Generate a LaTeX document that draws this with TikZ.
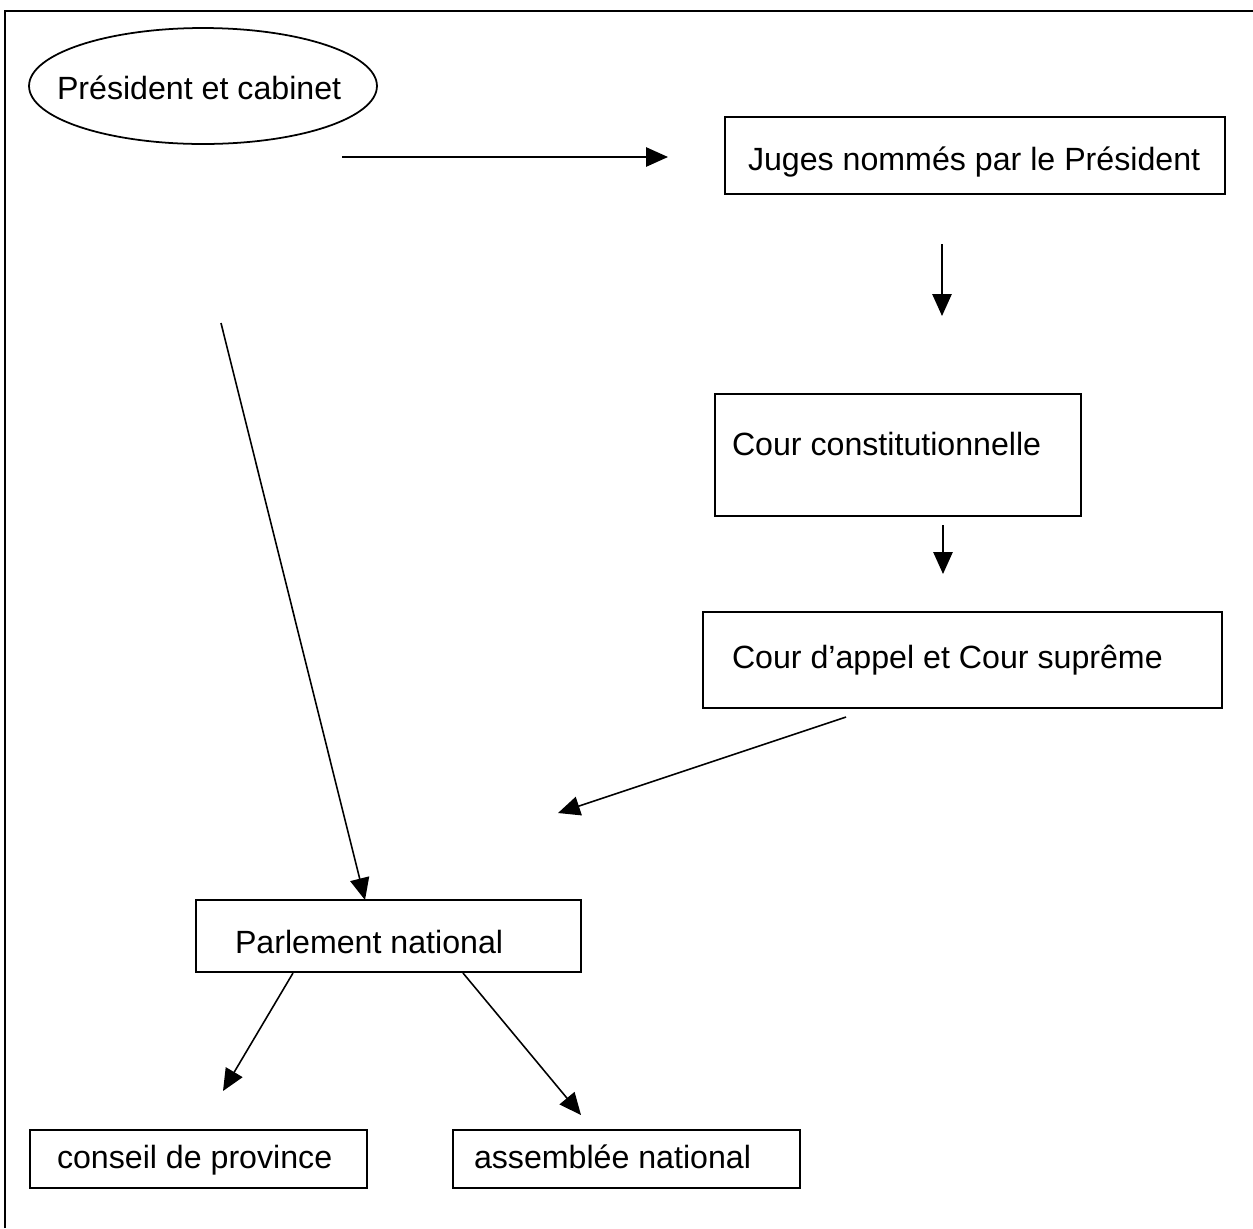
\documentclass[tikz,border=0pt]{standalone}
\usepackage{fontspec}
\setmainfont{Liberation Sans}
\usetikzlibrary{arrows.meta,shapes.geometric}
\begin{document}
\begin{tikzpicture}[x=0.02cm,y=-0.02cm,
  box/.style={draw=black,line width=1.1pt,rectangle,inner sep=0pt,outer sep=0pt},
  oval/.style={draw=black,line width=1pt,ellipse,inner sep=0pt,outer sep=0pt,minimum width=6.96cm,minimum height=2.32cm},
  lbl/.style={inner sep=0pt,outer sep=0pt,anchor=base west,font=\fontsize{18.3}{22}\selectfont},
  arr/.style={line width=0.9pt,-{Triangle[length=12.5pt,width=11pt]}}]
\useasboundingbox (0,0) rectangle (1253,1228);
% frame (top and left visible)
\draw[line width=1.4pt] (5,1228) -- (5,11) -- (1253,11);
% shapes
\node[oval] (pres) at (203,86) {};
\node[box,minimum width=10cm,minimum height=1.54cm] (juges) at (975,155.5) {};
\node[box,minimum width=7.32cm,minimum height=2.44cm] (const) at (898,455) {};
\node[box,minimum width=10.38cm,minimum height=1.92cm] (appel) at (962.5,660) {};
\node[box,minimum width=7.7cm,minimum height=1.44cm] (parl) at (388.5,936) {};
\node[box,minimum width=6.74cm,minimum height=1.16cm] (cons) at (198.5,1159) {};
\node[box,minimum width=6.94cm,minimum height=1.16cm] (assem) at (626.5,1159) {};
% labels
\node[lbl] (pres-t) at (57,99) {Président et cabinet};
\node[lbl] (juges-t) at (748,170) {Juges nommés par le Président};
\node[lbl] (const-t) at (732,455) {Cour constitutionnelle};
\node[lbl] (appel-t) at (732,668) {Cour d’appel et Cour suprême};
\node[lbl] (parl-t) at (235,953) {Parlement national};
\node[lbl] (cons-t) at (57,1168) {conseil de province};
\node[lbl] (assem-t) at (474,1168) {assemblée national};
% connector end points
\coordinate (a1s) at (342,157);
\coordinate (a1e) at (668,157);
\coordinate (a2s) at (942,244);
\coordinate (a2e) at (942,316);
\coordinate (a3s) at (943,525);
\coordinate (a3e) at (943,574);
\coordinate (a4s) at (846,717);
\coordinate (a4e) at (558,813);
\coordinate (a5s) at (221,323);
\coordinate (a6s) at (293,973);
\coordinate (a6e) at (223,1091);
\coordinate (a7s) at (463,973);
\coordinate (a7e) at (581,1115);
% connectors
\draw[arr] (a1s) -- (a1e);
\draw[arr] (a2s) -- (a2e);
\draw[arr] (a3s) -- (a3e);
\draw[arr] (a4s) -- (a4e);
\draw[arr] (a5s) -- (parl.north -| 365,0);
\draw[arr] (a6s) -- (a6e);
\draw[arr] (a7s) -- (a7e);
\end{tikzpicture}
\end{document}
